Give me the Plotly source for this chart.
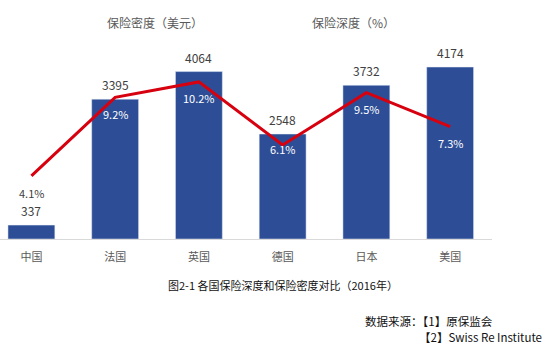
import plotly.graph_objects as go

categories = ["中国", "法国", "英国", "德国", "日本", "美国"]
density = [337, 3395, 4064, 2548, 3732, 4174]          # 保险密度（美元）
depth = [4.1, 9.2, 10.2, 6.1, 9.5, 7.3]                 # 保险深度（%）
depth_labels = [f"{v}%" for v in depth]

# label style
depth_label_shift = [-17, -17, -16, -4, -16, -16]
depth_label_color = ["#404040", "white", "white", "white", "white", "white"]

FONT = "Noto Sans CJK SC"
BAR = "#2D4E96"
RED = "#D7000F"

fig = go.Figure()
fig.add_trace(go.Bar(x=categories, y=density, marker_color=BAR, width=0.56,
                     name="保险密度（美元）", showlegend=False))
fig.add_trace(go.Scatter(x=categories, y=depth, mode="lines", yaxis="y2",
                         line=dict(color=RED, width=3), name="保险深度（%）",
                         showlegend=False))

ann = []
for c, v in zip(categories, density):
    ann.append(dict(x=c, y=v, xref="x", yref="y", text=str(v), showarrow=False,
                    yanchor="bottom", yshift=4,
                    font=dict(family=FONT, size=12, color="#404040")))
for c, v, t, s, col in zip(categories, depth, depth_labels, depth_label_shift, depth_label_color):
    ann.append(dict(x=c, y=v, xref="x", yref="y2", text=t, showarrow=False,
                    yanchor="middle", yshift=s,
                    font=dict(family=FONT, size=11, color=col)))

W, H = 554, 350
L, R, T, B = 0, 62, 30, 111
pw, ph = W - L - R, H - T - B


def px_note(x, y, text, anchor, size, color):
    return dict(x=(x - L) / pw, y=(H - B - y) / ph, xref="paper", yref="paper",
                text=text, showarrow=False, xanchor=anchor, yanchor="middle",
                font=dict(family=FONT, size=size, color=color))


ann.append(px_note(155, 22, "保险密度（美元）", "center", 12, "#595959"))
ann.append(px_note(353, 22, "保险深度（%）", "center", 12, "#595959"))
ann.append(px_note(166, 285, "图2-1 各国保险深度和保险密度对比（2016年）", "left", 11, "#111111"))
ann.append(px_note(363, 321, "数据来源：【1】原保监会", "left", 11.5, "#111111"))
ann.append(px_note(417, 337, "【2】Swiss Re Institute", "left", 11.5, "#111111"))

fig.update_layout(
    width=W, height=H,
    margin=dict(l=L, r=R, t=T, b=B),
    plot_bgcolor="white", paper_bgcolor="white",
    xaxis=dict(range=[-0.375, 5.5], showgrid=False, showline=True,
               linecolor="#D9D9D9", linewidth=1, ticks="", ticklabelstandoff=8,
               tickfont=dict(family=FONT, size=11, color="#595959")),
    yaxis=dict(range=[0, 5073], visible=False),
    yaxis2=dict(range=[0, 13.57], overlaying="y", visible=False),
    annotations=ann,
    showlegend=False,
)
fig.write_html("out.html")
